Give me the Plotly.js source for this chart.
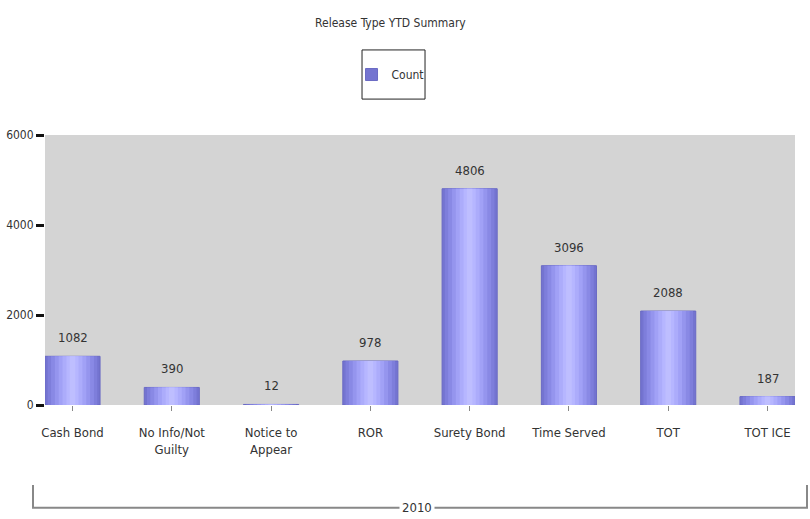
<!DOCTYPE html>
<html>
<head>
<meta charset="utf-8">
<script src="https://cdn.plot.ly/plotly-3.0.1.min.js"></script>
<style>html,body{margin:0;padding:0;background:#fff;}#chart{width:810px;height:519px;}</style>
</head>
<body>
<div id="chart"></div>
<script>
const categories = ["Cash Bond", "No Info/Not<br>Guilty", "Notice to<br>Appear", "ROR", "Surety Bond", "Time Served", "TOT", "TOT ICE"];
const counts = [1082, 390, 12, 978, 4806, 3096, 2088, 187];
const yTicks = [0, 2000, 4000, 6000];
const groupLabel = "2010";
const seriesName = "Count";
const chartTitle = "Release Type YTD Summary";

const FAM = "Liberation Sans Narrow, DejaVu Sans Condensed, Liberation Sans, sans-serif";
function F(size, color) { return {family: FAM, size: size, color: color || "#333", stretch: "condensed"}; }
const xs = categories.map((c, i) => i);
const barW = 0.555;

const layers = [
  {f: 1.00, c: "#7474d0"},
  {f: 0.90, c: "#7e7edb"},
  {f: 0.78, c: "#8989e5"},
  {f: 0.64, c: "#9595ee"},
  {f: 0.50, c: "#a1a1f6"},
  {f: 0.36, c: "#acacfb"},
  {f: 0.22, c: "#b6b6ff"},
  {f: 0.10, c: "#bebeff"}
];

const traces = layers.map((L, k) => ({
  type: "bar",
  x: xs,
  y: counts,
  width: barW * L.f,
  name: seriesName,
  showlegend: k === 0,
  marker: {color: k === 0 ? L.c : L.c, line: {width: k === 0 ? 1 : 0, color: "#6a6ac4"}},
  hoverinfo: "skip"
}));

const annotations = counts.map((v, i) => ({
  x: xs[i], y: v, xref: "x", yref: "y", text: String(v),
  showarrow: false, yanchor: "bottom", yshift: 9,
  font: F(13)
}));

annotations.push({
  xref: "paper", yref: "paper", x: 0.496, y: -0.381, text: groupLabel,
  showarrow: false, bgcolor: "#fff", xanchor: "center", yanchor: "middle",
  font: F(13), borderpad: 2
});

const shapes = [
  {type: "path", xref: "paper", yref: "paper",
   path: "M -0.016 -0.296 L -0.016 -0.381 L 1.016 -0.381 L 1.016 -0.296",
   line: {color: "#888", width: 2}},
  {type: "rect", xref: "paper", yref: "paper",
   x0: 0.4227, x1: 0.5067, y0: 1.133, y1: 1.315,
   line: {color: "#222", width: 1}, fillcolor: "rgba(0,0,0,0)"}
];

const layout = {
  width: 810, height: 519,
  margin: {l: 45, r: 15, t: 135, b: 114},
  paper_bgcolor: "#fff",
  plot_bgcolor: "#d4d4d4",
  barmode: "overlay",
  title: {text: chartTitle, x: 0.482, xanchor: "center", y: 0.957, yanchor: "middle",
          font: F(12)},
  font: F(13),
  xaxis: {
    range: [-0.277, 7.277], tickvals: xs, ticktext: categories,
    ticks: "outside", ticklen: 5, tickwidth: 1, tickcolor: "#888",
    ticklabelstandoff: 10,
    showgrid: false, zeroline: false, showline: false,
    tickfont: F(13)
  },
  yaxis: {
    range: [0, 6000], tickvals: yTicks, ticktext: yTicks.map(String),
    ticks: "outside", ticklen: 8, tickwidth: 3, tickcolor: "#111",
    showgrid: false, zeroline: false, showline: false,
    tickfont: F(12)
  },
  showlegend: true,
  legend: {
    x: 0.4607, xanchor: "center", y: 1.224, yanchor: "middle",
    bgcolor: "rgba(0,0,0,0)", borderwidth: 0, itemwidth: 30,
    font: F(12)
  },
  annotations: annotations,
  shapes: shapes
};

Plotly.newPlot("chart", traces, layout, {staticPlot: true, displayModeBar: false});
</script>
</body>
</html>
